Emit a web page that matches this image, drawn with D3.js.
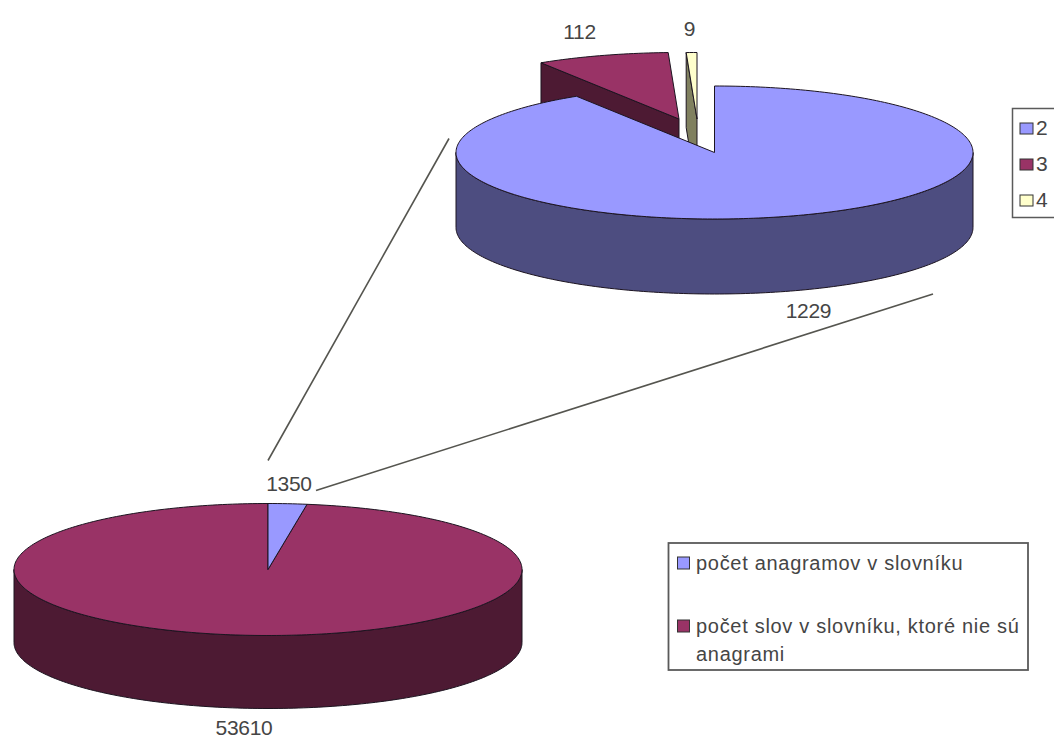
<!DOCTYPE html>
<html>
<head>
<meta charset="utf-8">
<script src="https://cdn.jsdelivr.net/npm/d3@7"></script>
<style>
  html, body { margin: 0; padding: 0; background: #fff; }
  svg { display: block; }
  text { font-family: "Liberation Sans", Arial, sans-serif; fill: #454545; }
</style>
</head>
<body>
<svg id="chart" width="1054" height="740"></svg>
<script>
// Word counts shown by the two pies
const overviewCategories = ["počet anagramov v slovníku", "počet slov v slovníku, ktoré nie sú anagrami"];
const overviewValues = [1350, 53610];
const detailCategories = ["2", "3", "4"];
const detailValues = [1229, 112, 9];

const BLUE = { top: "#9999ff", side: "#4d4d80" };
const MAROON = { top: "#993366", side: "#4d1a33" };
const CREAM = { top: "#ffffcc", side: "#80805f" };
const OUTLINE = "#1c1420";

const svg = d3.select("#chart");
const TAU = 2 * Math.PI;

// Ellipse point for a pie angle measured clockwise from twelve o'clock
const rimPoint = (g, a, dy = 0) => [g.cx + g.rx * Math.sin(a), g.cy - g.ry * Math.cos(a) + dy];

function rimPoints(g, a0, a1, dy = 0) {
  const n = Math.max(2, Math.ceil(Math.abs(a1 - a0) / 0.02));
  return d3.range(n + 1).map(i => rimPoint(g, a0 + (a1 - a0) * i / n, dy));
}

const path = d3.line();

function drawSlice(group, g, d, colors) {
  const a0 = d.startAngle, a1 = d.endAngle;
  const apex = [g.cx, g.cy];
  const apexLow = [g.cx, g.cy + g.depth];

  // Outer wall: only the part of the rim that faces the viewer
  const f0 = Math.max(a0, Math.PI / 2), f1 = Math.min(a1, 3 * Math.PI / 2);
  if (f1 > f0) {
    group.append("path")
      .attr("d", path([...rimPoints(g, f0, f1), ...rimPoints(g, f1, f0, g.depth)]) + "Z")
      .attr("fill", colors.side).attr("stroke", OUTLINE).attr("stroke-width", 1);
  }
  // Cut face along the leading edge, visible when the slice sits in the upper left
  if (g.showCut) {
    group.append("path")
      .attr("d", path([apex, rimPoint(g, a0), rimPoint(g, a0, g.depth), apexLow]) + "Z")
      .attr("fill", colors.side).attr("stroke", OUTLINE).attr("stroke-width", 1);
  }
  // Top surface
  group.append("path")
    .attr("d", path([apex, ...rimPoints(g, a0, a1)]) + "Z")
    .attr("fill", colors.top).attr("stroke", OUTLINE).attr("stroke-width", 1);
}

const pie = d3.pie().sort(null).startAngle(0).endAngle(TAU);

// Lower pie: whole dictionary, with the anagram share as a flat wedge
const lower = { cx: 268, cy: 569.5, rx: 254, ry: 66, depth: 73 };
const lowerArcs = pie(overviewValues);
const lowerLayer = svg.append("g");
drawSlice(lowerLayer, lower, lowerArcs[1], MAROON);
drawSlice(lowerLayer, lower, lowerArcs[0], BLUE);

// Upper pie: anagram groups, two small slices pulled out to the back
const upper = { cx: 714.5, cy: 152.5, rx: 258.5, ry: 66.5, depth: 75 };
const upperArcs = pie(detailValues);
const upperLayer = svg.append("g");
drawSlice(upperLayer, { ...upper, cx: upper.cx - 17.5, cy: upper.cy - 33.5, showCut: true }, upperArcs[2], CREAM);
drawSlice(upperLayer, { ...upper, cx: upper.cx - 35.5, cy: upper.cy - 33.5, showCut: true }, upperArcs[1], MAROON);
drawSlice(upperLayer, upper, upperArcs[0], BLUE);

// Connector lines from the small wedge up to the detail pie
svg.append("g").attr("stroke", "#55554f").attr("stroke-width", 1.6).selectAll("line")
  .data([
    [[upper.cx - upper.rx - 7, upper.cy - 14], [lower.cx, lower.cy - 109]],
    [[upper.cx + upper.rx - 40, upper.cy + upper.ry + upper.depth], [lower.cx + 48, lower.cy - 79]]
  ])
  .join("line")
  .attr("x1", d => d[0][0]).attr("y1", d => d[0][1])
  .attr("x2", d => d[1][0]).attr("y2", d => d[1][1]);

// Value labels
const labelFont = 21;
const valueLabels = [
  { v: detailValues[0], x: upper.cx + 94, y: upper.cy + 165 },
  { v: detailValues[1], x: upper.cx - 135, y: upper.cy - 114 },
  { v: detailValues[2], x: upper.cx - 25, y: upper.cy - 117 },
  { v: overviewValues[0], x: lower.cx + 21, y: lower.cy - 79 },
  { v: overviewValues[1], x: lower.cx - 24, y: lower.cy + 165 }
];
svg.append("g").selectAll("text").data(valueLabels).join("text")
  .attr("x", d => d.x).attr("y", d => d.y)
  .attr("text-anchor", "middle").attr("font-size", labelFont)
  .attr("letter-spacing", -0.3)
  .text(d => d.v);

// Legend for the upper pie, running off the right edge
const legendStroke = "#5a5a5a";
const upperLegend = svg.append("g");
upperLegend.append("rect")
  .attr("x", 1012.5).attr("y", 108.5).attr("width", 60).attr("height", 109)
  .attr("fill", "#fff").attr("stroke", legendStroke).attr("stroke-width", 1.5);
const upperColors = [BLUE, MAROON, CREAM];
const upperRows = d3.scalePoint().domain(detailCategories).range([128, 200]);
detailCategories.forEach((c, i) => {
  upperLegend.append("rect")
    .attr("x", 1020).attr("y", upperRows(c) - 5).attr("width", 13).attr("height", 11)
    .attr("fill", upperColors[i].top).attr("stroke", "#333").attr("stroke-width", 1);
  upperLegend.append("text")
    .attr("x", 1036).attr("y", upperRows(c) + 7)
    .attr("font-size", labelFont).text(c);
});

// Legend for the lower pie; the long entry wraps onto a second line
const lowerLegend = svg.append("g");
lowerLegend.append("rect")
  .attr("x", 668.5).attr("y", 543).attr("width", 359.5).attr("height", 127)
  .attr("fill", "#fff").attr("stroke", legendStroke).attr("stroke-width", 1.8);
const legendSpacing = 0.7;
const legendLines = [
  { lines: [overviewCategories[0]], y: 570, color: BLUE },
  { lines: ["počet slov v slovníku, ktoré nie sú", "anagrami"], y: 633, color: MAROON }
];
legendLines.forEach(e => {
  lowerLegend.append("rect")
    .attr("x", 677.5).attr("y", e.y - 13).attr("width", 12).attr("height", 12)
    .attr("fill", e.color.top).attr("stroke", "#333").attr("stroke-width", 1);
  e.lines.forEach((t, i) => {
    lowerLegend.append("text")
      .attr("x", 696).attr("y", e.y + i * 28)
      .attr("font-size", 20).attr("letter-spacing", legendSpacing)
      .text(t);
  });
});
</script>
</body>
</html>
